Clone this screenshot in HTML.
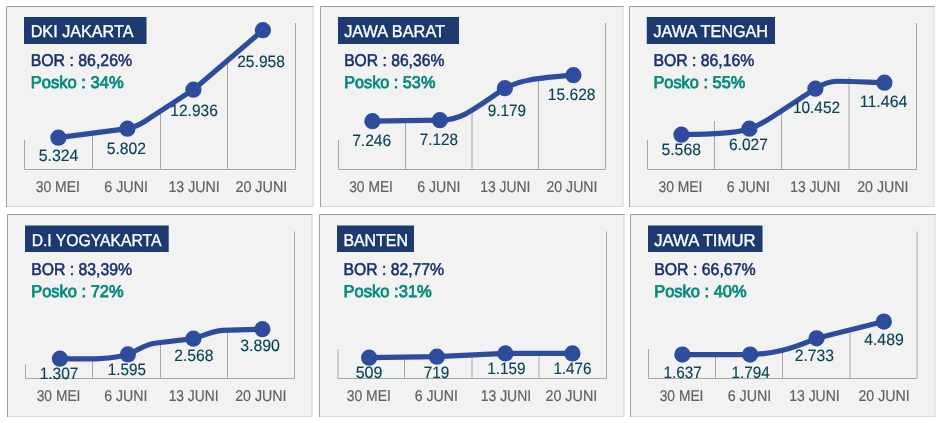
<!DOCTYPE html>
<html lang="id">
<head>
<meta charset="utf-8">
<title>BOR &amp; Posko</title>
<style>
html,body{margin:0;padding:0;background:#fff;}
body{width:940px;height:423px;overflow:hidden;}
svg{display:block;font-family:'Liberation Sans', sans-serif;}
text{white-space:pre;text-rendering:geometricPrecision;}
</style>
</head>
<body>
<svg width="940" height="423" viewBox="0 0 940 423">
<rect x="0" y="0" width="940" height="423" fill="#ffffff"/>
<g>
<rect x="6" y="6" width="307.5" height="201" fill="#f2f2f2"/>
<path d="M313.0,6 V206.5 H6" fill="none" stroke="#d8d8d8" stroke-width="1"/>
<path d="M6.5,207 V6.5 H313.5" fill="none" stroke="#a0a0a0" stroke-width="1"/>
<path d="M24.5,169.5 H295.5 M24.5,169.5 V140 M92.5,169.5 V132 M160.5,169.5 V108 M227.5,169.5 V58 M295.5,169.5 V23" fill="none" stroke="#a6a6a6" stroke-width="1"/>
<rect x="24" y="17" width="122.5" height="27" fill="#1c3a70"/>
<text x="30.66" y="37.00" font-size="17" font-weight="normal" fill="#ffffff" stroke="#ffffff" stroke-width="0.35" textLength="102.85" lengthAdjust="spacingAndGlyphs">DKI JAKARTA</text>
<text x="30.66" y="66.20" font-size="17" font-weight="normal" fill="#18306c" stroke="#18306c" stroke-width="0.55" textLength="101.45" lengthAdjust="spacingAndGlyphs">BOR : 86,26%</text>
<text x="30.66" y="88.20" font-size="17" font-weight="normal" fill="#068a7c" stroke="#068a7c" stroke-width="0.8" textLength="92.95" lengthAdjust="spacingAndGlyphs">Posko : 34%</text>
<g transform="translate(0.40,0.65)">
<path d="M58,137 L127,128 Q138,126 150,117 L193,89 L262.5,29.5" fill="none" stroke="#2e4c9c" stroke-width="5.2" stroke-linejoin="round" stroke-linecap="round"/>
<circle cx="58" cy="137" r="8.1" fill="#2e4c9c"/>
<circle cx="127" cy="128" r="8.1" fill="#2e4c9c"/>
<circle cx="193" cy="89" r="8.1" fill="#2e4c9c"/>
<circle cx="262.5" cy="29.5" r="8.1" fill="#2e4c9c"/>
</g>
<text x="38.67" y="161.40" font-size="16.5" font-weight="normal" fill="#084356" stroke="#084356" stroke-width="0.15" textLength="39.82" lengthAdjust="spacingAndGlyphs">5.324</text>
<text x="106.67" y="154.15" font-size="16.5" font-weight="normal" fill="#084356" stroke="#084356" stroke-width="0.15" textLength="39.32" lengthAdjust="spacingAndGlyphs">5.802</text>
<text x="170.37" y="115.90" font-size="16.5" font-weight="normal" fill="#084356" stroke="#084356" stroke-width="0.15" textLength="47.43" lengthAdjust="spacingAndGlyphs">12.936</text>
<text x="237.17" y="66.90" font-size="16.5" font-weight="normal" fill="#084356" stroke="#084356" stroke-width="0.15" textLength="47.82" lengthAdjust="spacingAndGlyphs">25.958</text>
<text x="35.69" y="192.15" font-size="15.5" font-weight="normal" fill="#626262" stroke="#626262" stroke-width="0.2" textLength="44.28" lengthAdjust="spacingAndGlyphs">30 MEI</text>
<text x="104.19" y="192.15" font-size="15.5" font-weight="normal" fill="#626262" stroke="#626262" stroke-width="0.2" textLength="43.78" lengthAdjust="spacingAndGlyphs">6 JUNI</text>
<text x="168.44" y="192.15" font-size="15.5" font-weight="normal" fill="#626262" stroke="#626262" stroke-width="0.2" textLength="51.28" lengthAdjust="spacingAndGlyphs">13 JUNI</text>
<text x="235.44" y="192.15" font-size="15.5" font-weight="normal" fill="#626262" stroke="#626262" stroke-width="0.2" textLength="51.78" lengthAdjust="spacingAndGlyphs">20 JUNI</text>
</g>
<g>
<rect x="320" y="6" width="303.5" height="201" fill="#f2f2f2"/>
<path d="M623.0,6 V206.5 H320" fill="none" stroke="#d8d8d8" stroke-width="1"/>
<path d="M320.5,207 V6.5 H623.5" fill="none" stroke="#a0a0a0" stroke-width="1"/>
<path d="M338.5,169.5 H605.5 M338.5,169.5 V140 M405.5,169.5 V121 M472,169.5 V112 M538.5,169.5 V78 M605.5,169.5 V23" fill="none" stroke="#a6a6a6" stroke-width="1"/>
<rect x="338" y="17" width="121" height="27" fill="#1c3a70"/>
<text x="344.16" y="37.00" font-size="17" font-weight="normal" fill="#ffffff" stroke="#ffffff" stroke-width="0.35" textLength="100.85" lengthAdjust="spacingAndGlyphs">JAWA BARAT</text>
<text x="344.16" y="66.20" font-size="17" font-weight="normal" fill="#18306c" stroke="#18306c" stroke-width="0.55" textLength="100.20" lengthAdjust="spacingAndGlyphs">BOR : 86,36%</text>
<text x="344.16" y="88.20" font-size="17" font-weight="normal" fill="#068a7c" stroke="#068a7c" stroke-width="0.8" textLength="91.20" lengthAdjust="spacingAndGlyphs">Posko : 53%</text>
<g transform="translate(0.40,0.15)">
<path d="M372,121 L439.5,120 C460,120 470,112 504.5,88 C520,80 535,78 573,75" fill="none" stroke="#2e4c9c" stroke-width="5.2" stroke-linejoin="round" stroke-linecap="round"/>
<circle cx="372" cy="121" r="8.1" fill="#2e4c9c"/>
<circle cx="439.5" cy="120" r="8.1" fill="#2e4c9c"/>
<circle cx="504.5" cy="88" r="8.1" fill="#2e4c9c"/>
<circle cx="573" cy="75" r="8.1" fill="#2e4c9c"/>
</g>
<text x="352.17" y="145.90" font-size="16.5" font-weight="normal" fill="#084356" stroke="#084356" stroke-width="0.15" textLength="39.07" lengthAdjust="spacingAndGlyphs">7.246</text>
<text x="419.67" y="144.65" font-size="16.5" font-weight="normal" fill="#084356" stroke="#084356" stroke-width="0.15" textLength="38.32" lengthAdjust="spacingAndGlyphs">7.128</text>
<text x="487.67" y="116.20" font-size="16.5" font-weight="normal" fill="#084356" stroke="#084356" stroke-width="0.15" textLength="38.32" lengthAdjust="spacingAndGlyphs">9.179</text>
<text x="547.87" y="100.00" font-size="16.5" font-weight="normal" fill="#084356" stroke="#084356" stroke-width="0.15" textLength="47.62" lengthAdjust="spacingAndGlyphs">15.628</text>
<text x="349.19" y="192.15" font-size="15.5" font-weight="normal" fill="#626262" stroke="#626262" stroke-width="0.2" textLength="43.78" lengthAdjust="spacingAndGlyphs">30 MEI</text>
<text x="417.19" y="192.15" font-size="15.5" font-weight="normal" fill="#626262" stroke="#626262" stroke-width="0.2" textLength="43.28" lengthAdjust="spacingAndGlyphs">6 JUNI</text>
<text x="480.19" y="192.15" font-size="15.5" font-weight="normal" fill="#626262" stroke="#626262" stroke-width="0.2" textLength="50.28" lengthAdjust="spacingAndGlyphs">13 JUNI</text>
<text x="546.44" y="192.15" font-size="15.5" font-weight="normal" fill="#626262" stroke="#626262" stroke-width="0.2" textLength="51.03" lengthAdjust="spacingAndGlyphs">20 JUNI</text>
</g>
<g>
<rect x="629" y="6" width="305.5" height="201" fill="#f2f2f2"/>
<path d="M934.0,6 V206.5 H629" fill="none" stroke="#d8d8d8" stroke-width="1"/>
<path d="M629.5,207 V6.5 H934.5" fill="none" stroke="#a0a0a0" stroke-width="1"/>
<path d="M647.5,169.5 H916.5 M647.5,169.5 V140 M714.5,169.5 V121 M781.5,169.5 V112 M849,169.5 V77 M916.5,169.5 V23" fill="none" stroke="#a6a6a6" stroke-width="1"/>
<rect x="646.75" y="17" width="128.25" height="27" fill="#1c3a70"/>
<text x="653.41" y="37.00" font-size="17" font-weight="normal" fill="#ffffff" stroke="#ffffff" stroke-width="0.35" textLength="114.60" lengthAdjust="spacingAndGlyphs">JAWA TENGAH</text>
<text x="653.41" y="66.20" font-size="17" font-weight="normal" fill="#18306c" stroke="#18306c" stroke-width="0.55" textLength="100.95" lengthAdjust="spacingAndGlyphs">BOR : 86,16%</text>
<text x="653.41" y="88.20" font-size="17" font-weight="normal" fill="#068a7c" stroke="#068a7c" stroke-width="0.8" textLength="91.95" lengthAdjust="spacingAndGlyphs">Posko : 55%</text>
<g transform="translate(0.40,0.65)">
<path d="M681,134 C715,133.5 735,132.5 749,128 C763,123.5 772,116 815,88 C823,82.8 829,80.6 837,80.6 C850,80.6 870,81.6 884,82" fill="none" stroke="#2e4c9c" stroke-width="5.2" stroke-linejoin="round" stroke-linecap="round"/>
<circle cx="681" cy="134" r="8.1" fill="#2e4c9c"/>
<circle cx="749" cy="128" r="8.1" fill="#2e4c9c"/>
<circle cx="815" cy="88" r="8.1" fill="#2e4c9c"/>
<circle cx="884" cy="82" r="8.1" fill="#2e4c9c"/>
</g>
<text x="661.42" y="154.90" font-size="16.5" font-weight="normal" fill="#084356" stroke="#084356" stroke-width="0.15" textLength="39.57" lengthAdjust="spacingAndGlyphs">5.568</text>
<text x="728.92" y="150.15" font-size="16.5" font-weight="normal" fill="#084356" stroke="#084356" stroke-width="0.15" textLength="39.07" lengthAdjust="spacingAndGlyphs">6.027</text>
<text x="792.97" y="112.90" font-size="16.5" font-weight="normal" fill="#084356" stroke="#084356" stroke-width="0.15" textLength="47.03" lengthAdjust="spacingAndGlyphs">10.452</text>
<text x="859.67" y="106.90" font-size="16.5" font-weight="normal" fill="#084356" stroke="#084356" stroke-width="0.15" textLength="47.82" lengthAdjust="spacingAndGlyphs">11.464</text>
<text x="658.44" y="192.15" font-size="15.5" font-weight="normal" fill="#626262" stroke="#626262" stroke-width="0.2" textLength="44.03" lengthAdjust="spacingAndGlyphs">30 MEI</text>
<text x="726.69" y="192.15" font-size="15.5" font-weight="normal" fill="#626262" stroke="#626262" stroke-width="0.2" textLength="43.28" lengthAdjust="spacingAndGlyphs">6 JUNI</text>
<text x="790.19" y="192.15" font-size="15.5" font-weight="normal" fill="#626262" stroke="#626262" stroke-width="0.2" textLength="50.28" lengthAdjust="spacingAndGlyphs">13 JUNI</text>
<text x="857.19" y="192.15" font-size="15.5" font-weight="normal" fill="#626262" stroke="#626262" stroke-width="0.2" textLength="51.28" lengthAdjust="spacingAndGlyphs">20 JUNI</text>
</g>
<g>
<rect x="7" y="214" width="305.5" height="203" fill="#f2f2f2"/>
<path d="M312.0,214 V416.5 H7" fill="none" stroke="#d8d8d8" stroke-width="1"/>
<path d="M7.5,417 V214.5 H312.5" fill="none" stroke="#a0a0a0" stroke-width="1"/>
<path d="M25.5,378.5 H294.5 M25.5,378.5 V364.5 M92.5,378.5 V357 M160.5,378.5 V342 M227.5,378.5 V330 M294.5,378.5 V231.5" fill="none" stroke="#a6a6a6" stroke-width="1"/>
<rect x="25" y="225.5" width="143.7" height="26.5" fill="#1c3a70"/>
<text x="31.66" y="245.50" font-size="17" font-weight="normal" fill="#ffffff" stroke="#ffffff" stroke-width="0.35" textLength="129.85" lengthAdjust="spacingAndGlyphs">D.I YOGYAKARTA</text>
<text x="31.16" y="275.25" font-size="17" font-weight="normal" fill="#18306c" stroke="#18306c" stroke-width="0.55" textLength="100.95" lengthAdjust="spacingAndGlyphs">BOR : 83,39%</text>
<text x="31.16" y="297.25" font-size="17" font-weight="normal" fill="#068a7c" stroke="#068a7c" stroke-width="0.8" textLength="92.45" lengthAdjust="spacingAndGlyphs">Posko : 72%</text>
<g transform="translate(0.40,0.65)">
<path d="M59.5,358 C90,358.6 113,358.6 127.5,353.75 C136,350.5 144,344 154,342.6 L193,338 C203,335 212,330.5 222,329.8 L262,328.5" fill="none" stroke="#2e4c9c" stroke-width="5.2" stroke-linejoin="round" stroke-linecap="round"/>
<circle cx="59.5" cy="358" r="8.1" fill="#2e4c9c"/>
<circle cx="127.5" cy="353.75" r="8.1" fill="#2e4c9c"/>
<circle cx="193" cy="338" r="8.1" fill="#2e4c9c"/>
<circle cx="262" cy="328.5" r="8.1" fill="#2e4c9c"/>
</g>
<text x="39.67" y="379.40" font-size="16.5" font-weight="normal" fill="#084356" stroke="#084356" stroke-width="0.15" textLength="38.82" lengthAdjust="spacingAndGlyphs">1.307</text>
<text x="107.67" y="375.40" font-size="16.5" font-weight="normal" fill="#084356" stroke="#084356" stroke-width="0.15" textLength="38.32" lengthAdjust="spacingAndGlyphs">1.595</text>
<text x="174.17" y="361.40" font-size="16.5" font-weight="normal" fill="#084356" stroke="#084356" stroke-width="0.15" textLength="39.32" lengthAdjust="spacingAndGlyphs">2.568</text>
<text x="240.17" y="351.40" font-size="16.5" font-weight="normal" fill="#084356" stroke="#084356" stroke-width="0.15" textLength="39.82" lengthAdjust="spacingAndGlyphs">3.890</text>
<text x="36.69" y="401.00" font-size="15.5" font-weight="normal" fill="#626262" stroke="#626262" stroke-width="0.2" textLength="43.78" lengthAdjust="spacingAndGlyphs">30 MEI</text>
<text x="104.19" y="401.00" font-size="15.5" font-weight="normal" fill="#626262" stroke="#626262" stroke-width="0.2" textLength="43.28" lengthAdjust="spacingAndGlyphs">6 JUNI</text>
<text x="168.69" y="401.00" font-size="15.5" font-weight="normal" fill="#626262" stroke="#626262" stroke-width="0.2" textLength="49.78" lengthAdjust="spacingAndGlyphs">13 JUNI</text>
<text x="235.19" y="401.00" font-size="15.5" font-weight="normal" fill="#626262" stroke="#626262" stroke-width="0.2" textLength="51.28" lengthAdjust="spacingAndGlyphs">20 JUNI</text>
</g>
<g>
<rect x="319" y="214" width="305.5" height="203" fill="#f2f2f2"/>
<path d="M624.0,214 V416.5 H319" fill="none" stroke="#d8d8d8" stroke-width="1"/>
<path d="M319.5,417 V214.5 H624.5" fill="none" stroke="#a0a0a0" stroke-width="1"/>
<path d="M338,378.5 H606.5 M338,378.5 V349 M404.5,378.5 V357 M472,378.5 V355 M539,378.5 V353 M606.5,378.5 V231.5" fill="none" stroke="#a6a6a6" stroke-width="1"/>
<rect x="337" y="225.5" width="77" height="26.5" fill="#1c3a70"/>
<text x="343.41" y="245.50" font-size="17" font-weight="normal" fill="#ffffff" stroke="#ffffff" stroke-width="0.35" textLength="64.50" lengthAdjust="spacingAndGlyphs">BANTEN</text>
<text x="343.41" y="275.25" font-size="17" font-weight="normal" fill="#18306c" stroke="#18306c" stroke-width="0.55" textLength="100.70" lengthAdjust="spacingAndGlyphs">BOR : 82,77%</text>
<text x="343.41" y="297.25" font-size="17" font-weight="normal" fill="#068a7c" stroke="#068a7c" stroke-width="0.8" textLength="88.45" lengthAdjust="spacingAndGlyphs">Posko :31%</text>
<g transform="translate(0.40,0.65)">
<path d="M368.75,357 L436.5,356 L505,352.75 L572,352.75" fill="none" stroke="#2e4c9c" stroke-width="5.2" stroke-linejoin="round" stroke-linecap="round"/>
<circle cx="368.75" cy="357" r="8.1" fill="#2e4c9c"/>
<circle cx="436.5" cy="356" r="8.1" fill="#2e4c9c"/>
<circle cx="505" cy="352.75" r="8.1" fill="#2e4c9c"/>
<circle cx="572" cy="352.75" r="8.1" fill="#2e4c9c"/>
</g>
<text x="355.67" y="377.65" font-size="16.5" font-weight="normal" fill="#084356" stroke="#084356" stroke-width="0.15" textLength="26.82" lengthAdjust="spacingAndGlyphs">509</text>
<text x="423.67" y="377.90" font-size="16.5" font-weight="normal" fill="#084356" stroke="#084356" stroke-width="0.15" textLength="25.57" lengthAdjust="spacingAndGlyphs">719</text>
<text x="487.17" y="374.40" font-size="16.5" font-weight="normal" fill="#084356" stroke="#084356" stroke-width="0.15" textLength="38.32" lengthAdjust="spacingAndGlyphs">1.159</text>
<text x="553.42" y="374.40" font-size="16.5" font-weight="normal" fill="#084356" stroke="#084356" stroke-width="0.15" textLength="38.07" lengthAdjust="spacingAndGlyphs">1.476</text>
<text x="346.69" y="401.00" font-size="15.5" font-weight="normal" fill="#626262" stroke="#626262" stroke-width="0.2" textLength="44.28" lengthAdjust="spacingAndGlyphs">30 MEI</text>
<text x="414.69" y="401.00" font-size="15.5" font-weight="normal" fill="#626262" stroke="#626262" stroke-width="0.2" textLength="43.28" lengthAdjust="spacingAndGlyphs">6 JUNI</text>
<text x="480.69" y="401.00" font-size="15.5" font-weight="normal" fill="#626262" stroke="#626262" stroke-width="0.2" textLength="50.53" lengthAdjust="spacingAndGlyphs">13 JUNI</text>
<text x="545.44" y="401.00" font-size="15.5" font-weight="normal" fill="#626262" stroke="#626262" stroke-width="0.2" textLength="51.78" lengthAdjust="spacingAndGlyphs">20 JUNI</text>
</g>
<g>
<rect x="630" y="214" width="305.5" height="203" fill="#f2f2f2"/>
<path d="M935.0,214 V416.5 H630" fill="none" stroke="#d8d8d8" stroke-width="1"/>
<path d="M630.5,417 V214.5 H935.5" fill="none" stroke="#a0a0a0" stroke-width="1"/>
<path d="M648.5,378.5 H917 M648.5,378.5 V349 M715.5,378.5 V355 M782.5,378.5 V349 M850,378.5 V330 M917,378.5 V231.5" fill="none" stroke="#a6a6a6" stroke-width="1"/>
<rect x="648" y="225.5" width="114.5" height="26.5" fill="#1c3a70"/>
<text x="654.16" y="245.50" font-size="17" font-weight="normal" fill="#ffffff" stroke="#ffffff" stroke-width="0.35" textLength="101.35" lengthAdjust="spacingAndGlyphs">JAWA TIMUR</text>
<text x="654.16" y="275.25" font-size="17" font-weight="normal" fill="#18306c" stroke="#18306c" stroke-width="0.55" textLength="101.45" lengthAdjust="spacingAndGlyphs">BOR : 66,67%</text>
<text x="654.16" y="297.25" font-size="17" font-weight="normal" fill="#068a7c" stroke="#068a7c" stroke-width="0.8" textLength="92.45" lengthAdjust="spacingAndGlyphs">Posko : 40%</text>
<g transform="translate(0.10,0.05)">
<path d="M682.25,354.5 L750,354.5 C772,354 787,350.5 816.5,338.25 L883.75,321.5" fill="none" stroke="#2e4c9c" stroke-width="5.2" stroke-linejoin="round" stroke-linecap="round"/>
<circle cx="682.25" cy="354.5" r="8.1" fill="#2e4c9c"/>
<circle cx="750" cy="354.5" r="8.1" fill="#2e4c9c"/>
<circle cx="816.5" cy="338.25" r="8.1" fill="#2e4c9c"/>
<circle cx="883.75" cy="321.5" r="8.1" fill="#2e4c9c"/>
</g>
<text x="663.42" y="377.90" font-size="16.5" font-weight="normal" fill="#084356" stroke="#084356" stroke-width="0.15" textLength="38.32" lengthAdjust="spacingAndGlyphs">1.637</text>
<text x="731.42" y="377.90" font-size="16.5" font-weight="normal" fill="#084356" stroke="#084356" stroke-width="0.15" textLength="38.32" lengthAdjust="spacingAndGlyphs">1.794</text>
<text x="794.67" y="360.65" font-size="16.5" font-weight="normal" fill="#084356" stroke="#084356" stroke-width="0.15" textLength="39.32" lengthAdjust="spacingAndGlyphs">2.733</text>
<text x="864.17" y="344.90" font-size="16.5" font-weight="normal" fill="#084356" stroke="#084356" stroke-width="0.15" textLength="39.57" lengthAdjust="spacingAndGlyphs">4.489</text>
<text x="659.69" y="401.00" font-size="15.5" font-weight="normal" fill="#626262" stroke="#626262" stroke-width="0.2" textLength="43.78" lengthAdjust="spacingAndGlyphs">30 MEI</text>
<text x="727.69" y="401.00" font-size="15.5" font-weight="normal" fill="#626262" stroke="#626262" stroke-width="0.2" textLength="43.53" lengthAdjust="spacingAndGlyphs">6 JUNI</text>
<text x="789.19" y="401.00" font-size="15.5" font-weight="normal" fill="#626262" stroke="#626262" stroke-width="0.2" textLength="50.53" lengthAdjust="spacingAndGlyphs">13 JUNI</text>
<text x="858.44" y="401.00" font-size="15.5" font-weight="normal" fill="#626262" stroke="#626262" stroke-width="0.2" textLength="51.28" lengthAdjust="spacingAndGlyphs">20 JUNI</text>
</g>
</svg>
</body>
</html>
